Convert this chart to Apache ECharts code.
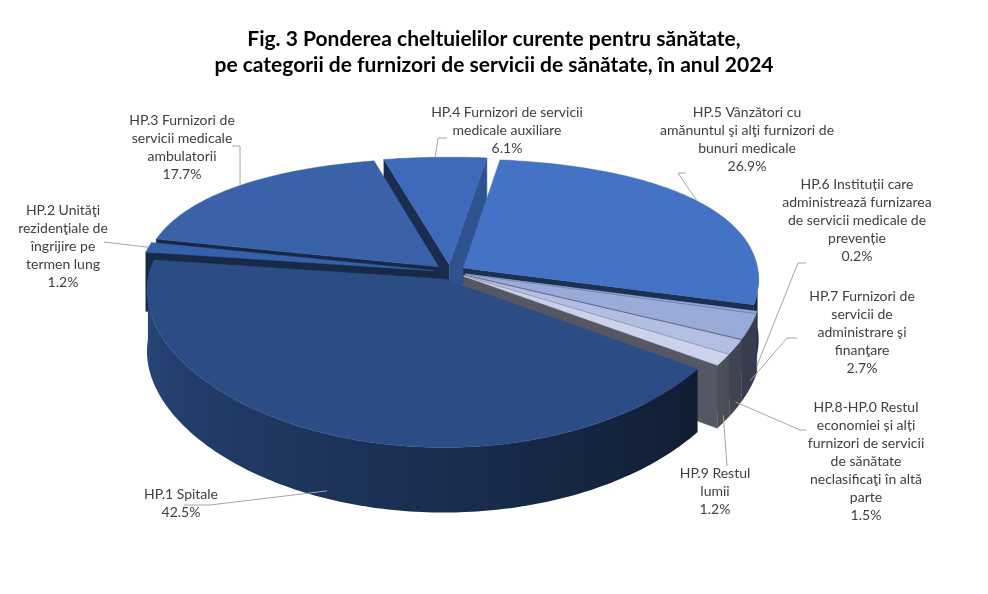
<!DOCTYPE html>
<html>
<head>
<meta charset="utf-8">
<script src="https://cdn.jsdelivr.net/npm/echarts@6/dist/echarts.min.js"></script>
<style>
html,body{margin:0;padding:0;background:#fff;}
#main{width:988px;height:594px;}
</style>
</head>
<body>
<div id="main"></div>
<script>
// date
var categories = [
	'HP.1 Spitale',
	'HP.2 Unităţi\nrezidenţiale de\nîngrijire pe\ntermen lung',
	'HP.3 Furnizori de\nservicii medicale\nambulatorii',
	'HP.4 Furnizori de servicii\nmedicale auxiliare',
	'HP.5 Vânzători cu\namănuntul şi alţi furnizori de\nbunuri medicale',
	'HP.6 Instituții care\nadministrează furnizarea\nde servicii medicale de\nprevenție',
	'HP.7 Furnizori de\nservicii de\nadministrare şi\nfinanţare',
	'HP.8-HP.0 Restul\neconomiei și alți\nfurnizori de servicii\nde sănătate\nneclasificaţi în altă\nparte',
	'HP.9 Restul\nlumii'
];
var values = [42.5, 1.2, 17.7, 6.1, 26.9, 0.2, 2.7, 1.5, 1.2];
var titleLines = [
	'Fig. 3 Ponderea cheltuielilor curente pentru sănătate,',
	'pe categorii de furnizori de servicii de sănătate, în anul 2024'
];
var topColors = ['#2B4C85', '#3661AA', '#3962A9', '#3E6AB9', '#4472C4', '#8FA7DA', '#9AAAD9', '#B3BFE2', '#CBD2E9'];

// pozitii etichete (centru text, inceput linie, umar)
var labelPos = [[181,503],[63,246],[182,147],[507,130],[747,139],[857,220],[862,332],[866,461],[715,491]];
var leaderStart = [[184,505],[104,242],[232,146],[447,138],[686,173],[806,263],[797,338],[806,430],[727,466]];
var leaderShoulder = [26, 0, 8, -9, -8, -8, -10, -6, 0];

// geometrie pie 3D
var CX = 450, CY = 272, R = 295, K = 0.468, P = 0.2, PX = 0.08, H = 60;
var START = 125, EXPL = 16;

var total = 0;
values.forEach(function(v){ total += v; });
var slices = [], acc = START;
values.forEach(function(v, i){
	var a0 = acc, a1 = acc + v / total * 360;
	acc = a1;
	slices.push({a0: a0, a1: a1, m: (a0 + a1) / 2});
});

function rad(d){ return d * Math.PI / 180; }
function proj(u, v, z){
	var s = 1 + PX * v / R;
	return [CX + u * s, CY + K * v * (1 + P * v / R) + z * s];
}
function pt(sl, theta, r, z){
	var ou = EXPL * Math.sin(rad(sl.m)), ov = -EXPL * Math.cos(rad(sl.m));
	return proj(ou + r * R * Math.sin(rad(theta)), ov - r * R * Math.cos(rad(theta)), z);
}
function shade(hex, f){
	var n = parseInt(hex.slice(1), 16);
	var r = (n >> 16) & 255, g = (n >> 8) & 255, b = n & 255;
	return 'rgb(' + Math.round(r * f) + ',' + Math.round(g * f) + ',' + Math.round(b * f) + ')';
}
function wallF(t){
	t = ((t % 360) + 360) % 360;
	var f = 0.36 + 0.56 * (t - 120) / 145;
	return Math.max(0.36, Math.min(0.93, f));
}
function radialF(phi){
	phi = ((phi % 360) + 360) % 360;
	return (phi >= 0 && phi <= 120) ? 0.78 : 0.42;
}
function arcPts(sl, t0, t1, z){
	var pts = [], n = Math.max(2, Math.ceil((t1 - t0) / 1));
	for (var k = 0; k <= n; k++) pts.push(pt(sl, t0 + (t1 - t0) * k / n, 1, z));
	return pts;
}

// ordinea de desenare (spate -> fata)
var order = slices.map(function(sl, i){
	return {i: i, d: -(EXPL + 0.5 * R) * Math.cos(rad(sl.m))};
}).sort(function(a, b){ return a.d - b.d; });
var rank = [];
order.forEach(function(o, k){ rank[o.i] = k; });

function renderItem(params, api){
	var i = params.dataIndex, sl = slices[i], col = topColors[i];
	var base = rank[i] * 10;
	var children = [];
	var ctr0 = pt(sl, 0, 0, 0), ctrH = pt(sl, 0, 0, H);

	// pereti radiali
	if (Math.sin(rad(sl.a0)) < 0) {
		var c = shade(col, radialF(sl.a0 - 90));
		children.push({type: 'polygon', z2: base + 1,
			shape: {points: [ctr0, pt(sl, sl.a0, 1, 0), pt(sl, sl.a0, 1, H), ctrH]},
			style: {fill: c, stroke: c, lineWidth: 0.5}});
	}
	if (Math.sin(rad(sl.a1)) > 0) {
		var c2 = shade(col, radialF(sl.a1 + 90));
		children.push({type: 'polygon', z2: base + 1,
			shape: {points: [ctr0, pt(sl, sl.a1, 1, 0), pt(sl, sl.a1, 1, H), ctrH]},
			style: {fill: c2, stroke: c2, lineWidth: 0.5}});
	}
	// perete exterior (partea din fata)
	[[90, 270], [450, 630]].forEach(function(rg){
		var t0 = Math.max(sl.a0, rg[0]), t1 = Math.min(sl.a1, rg[1]);
		if (t1 <= t0) return;
		var top = arcPts(sl, t0, t1, 0), bot = arcPts(sl, t0, t1, H).reverse();
		var xs = top.map(function(p){ return p[0]; });
		var xmin = Math.min.apply(null, xs), xmax = Math.max.apply(null, xs);
		var stops = [];
		for (var k = 0; k <= 10; k++) {
			var t = t0 + (t1 - t0) * k / 10;
			var x = pt(sl, t, 1, 0)[0];
			stops.push({offset: xmax > xmin ? (x - xmin) / (xmax - xmin) : k / 10, color: shade(col, wallF(t))});
		}
		stops.sort(function(a, b){ return a.offset - b.offset; });
		children.push({type: 'polygon', z2: base + 2,
			shape: {points: top.concat(bot)},
			style: {fill: new echarts.graphic.LinearGradient(0, 0, 1, 0, stops), lineWidth: 0}});
	});
	// fata superioara
	children.push({type: 'polygon', z2: base + 3,
		shape: {points: [ctr0].concat(arcPts(sl, sl.a0, sl.a1, 0))},
		style: {fill: col, stroke: col, lineWidth: 0.5}});

	// eticheta + linie de legatura
	var front = -Math.cos(rad(sl.m)) > 0.2;
	var anchor = pt(sl, sl.m, 1, front ? H * 0.88 : 0);
	var s0 = leaderStart[i], line = [s0];
	if (leaderShoulder[i]) line.push([s0[0] + leaderShoulder[i], s0[1]]);
	line.push(anchor);
	children.push({type: 'polyline', z2: 1000, shape: {points: line},
		style: {stroke: '#A6A6A6', lineWidth: 1, fill: null}});
	children.push({type: 'text', z2: 1001,
		style: {text: categories[i] + '\n' + api.value(0).toFixed(1) + '%',
			x: labelPos[i][0], y: labelPos[i][1],
			textAlign: 'center', textVerticalAlign: 'middle', align: 'center', verticalAlign: 'middle',
			fill: '#404040', font: '14px Lato', lineHeight: 18}});
	return {type: 'group', children: children};
}

var chart = echarts.init(document.getElementById('main'));
chart.setOption({
	backgroundColor: '#fff',
	animation: false,
	title: titleLines.map(function(t, k){
		return {
			text: t, left: 'center', top: 24 + k * 26,
			textStyle: {fontFamily: 'Lato', fontSize: 21, fontWeight: 'bold', color: '#000'}
		};
	}),
	series: [{
		type: 'custom',
		coordinateSystem: 'none',
		silent: true,
		renderItem: renderItem,
		data: values.map(function(v, i){ return {name: categories[i], value: [v]}; })
	}]
});
</script>
</body>
</html>
